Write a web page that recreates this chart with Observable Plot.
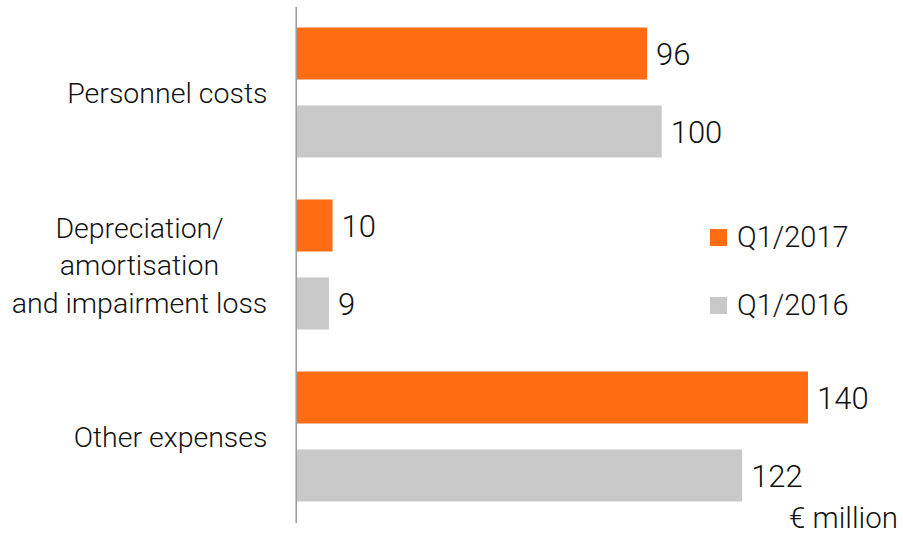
<!DOCTYPE html>
<html>
<head>
<meta charset="utf-8">
<script src="https://cdn.jsdelivr.net/npm/d3@7"></script>
<script src="https://cdn.jsdelivr.net/npm/@observablehq/plot@0.6"></script>
<style>
  body { margin: 0; background: #fff; }
  #wrap { position: relative; width: 903px; height: 536px; font-family: Roboto, "Noto Sans", sans-serif; font-weight: 300; color: #111; }
  .leg { position: absolute; left: 710px; display: flex; align-items: center; font-size: 29px; line-height: 1; }
  .leg .sw { width: 17px; height: 17px; margin-right: 10px; }
  #unit { position: absolute; right: 5px; top: 504px; font-size: 29.5px; line-height: 1; }
</style>
</head>
<body>
<div id="wrap"></div>
<script>
const categories = ["Personnel costs", "Depreciation/\namortisation\nand impairment loss", "Other expenses"];
const seriesNames = ["Q1/2017", "Q1/2016"];
const values2017 = [96, 10, 140];
const values2016 = [100, 9, 122];
const colors = ["#ff6c12", "#c8c8c8"];
const unitLabel = "€ million";

const data = [];
categories.forEach((c, i) => {
  data.push({category: c, series: seriesNames[0], value: values2017[i]});
  data.push({category: c, series: seriesNames[1], value: values2016[i]});
});

const single = categories.filter(c => !c.includes("\n"));
const multi = categories.filter(c => c.includes("\n"));

const chart = Plot.plot({
  width: 903,
  height: 536,
  marginLeft: 296,
  marginRight: 95,
  marginTop: 6.5,
  marginBottom: 13.5,
  style: {fontFamily: "Roboto, 'Noto Sans', sans-serif", fontWeight: 300, color: "#111", background: "#fff"},
  x: {domain: [0, 140], axis: null},
  fy: {domain: categories, padding: 0, axis: null},
  y: {domain: seriesNames, paddingInner: 0.33, paddingOuter: 0.26, axis: null},
  color: {domain: seriesNames, range: colors},
  marks: [
    Plot.barX(data, {x: "value", y: "series", fy: "category", fill: "series"}),
    Plot.text(data, {x: "value", y: "series", fy: "category", text: d => String(d.value), textAnchor: "start", dx: 8.5, dy: 1.5, fontSize: 31, fill: "#111", lineAnchor: "middle"}),
    Plot.ruleX([0], {stroke: "#9e9e9e", strokeWidth: 1.6, dx: -0.3}),
    Plot.text(single, {fy: d => d, text: d => d, frameAnchor: "left", textAnchor: "end", dx: -29, fontSize: 28.5, fill: "#111", lineAnchor: "middle"}),
    Plot.text(multi, {fy: d => d, text: d => d, frameAnchor: "left", textAnchor: "middle", dx: -157, dy: -2, fontSize: 28.5, lineHeight: 1.31, fill: "#111", lineAnchor: "middle"})
  ]
});

const wrap = document.getElementById("wrap");
wrap.appendChild(chart);

const legTops = [223, 291];
seriesNames.forEach((s, i) => {
  const el = document.createElement("div");
  el.className = "leg";
  el.style.top = legTops[i] + "px";
  el.innerHTML = `<span class="sw" style="background:${colors[i]}"></span><span>${s}</span>`;
  wrap.appendChild(el);
});
const u = document.createElement("div");
u.id = "unit";
u.textContent = unitLabel;
wrap.appendChild(u);
</script>
</body>
</html>
